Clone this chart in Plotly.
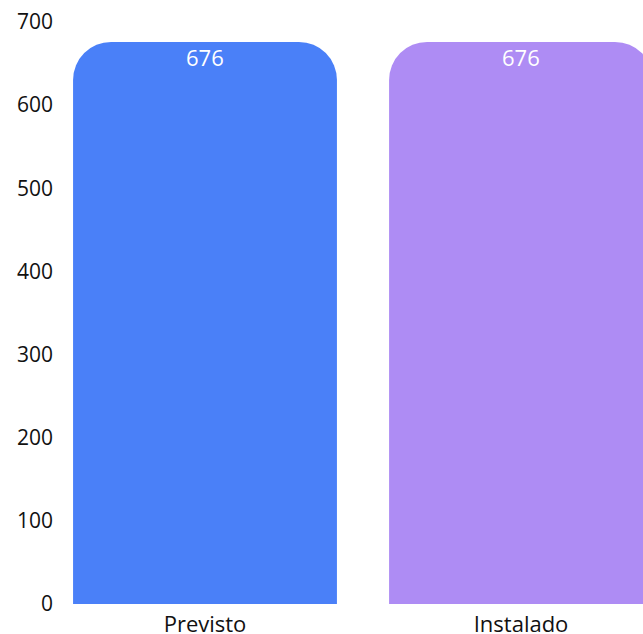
import plotly.graph_objects as go

categories = ["Previsto", "Instalado"]
values = [676, 676]
colors = ["#4a80f8", "#ae8cf4"]
y_ticks = [0, 100, 200, 300, 400, 500, 600, 700]

fig = go.Figure(go.Bar(
    x=categories, y=values,
    marker=dict(color=colors, line=dict(width=0)),
    cliponaxis=True,
))
for c, v in zip(categories, values):
    fig.add_annotation(x=c, y=v, text=str(v), showarrow=False, yanchor="middle",
                       yshift=-15, font=dict(color="white", size=22, family="Open Sans"))
fig.update_layout(
    width=643, height=634,
    margin=dict(l=62, r=0, t=22, b=30),
    paper_bgcolor="white", plot_bgcolor="white",
    bargap=0.165, barcornerradius=38,
    showlegend=False,
    font=dict(family="Open Sans", color="#111111", size=21),
)
fig.update_xaxes(range=[-0.4525, 1.386], showgrid=False, showline=False, zeroline=False,
                 tickfont=dict(size=22), ticks="", ticklabelstandoff=5, automargin=False)
fig.update_yaxes(range=[0, 700], tickvals=y_ticks, showgrid=False, zeroline=False,
                 showline=False, tickfont=dict(size=21), ticks="", ticklabelstandoff=8,
                 automargin=False)
fig.write_html("out.html")
